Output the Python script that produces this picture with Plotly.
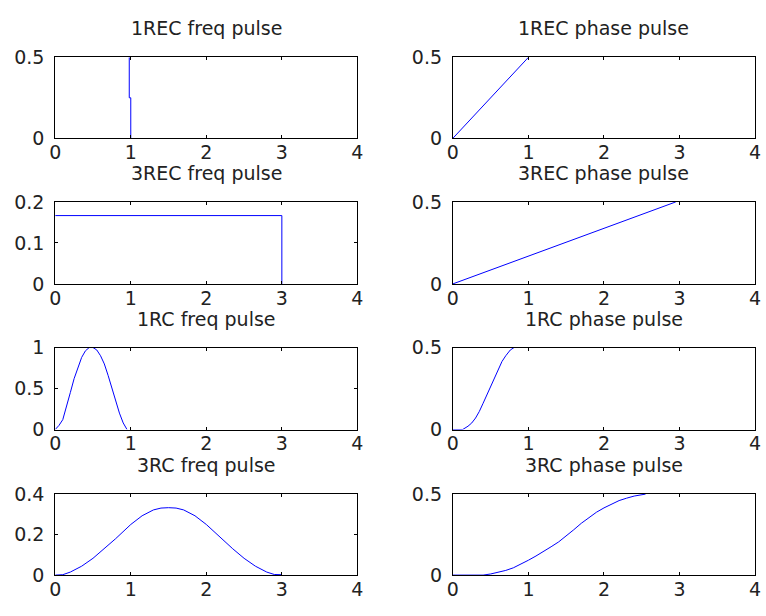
import plotly.graph_objects as go

# ---- data ----
titles = ["1REC freq pulse", "1REC phase pulse",
          "3REC freq pulse", "3REC phase pulse",
          "1RC freq pulse", "1RC phase pulse",
          "3RC freq pulse", "3RC phase pulse"]

rec1_freq_t = [0.98, 0.98, 1.0, 1.0]
rec1_freq_v = [0.5, 0.25, 0.25, 0]

rec1_phase_t = [0, 1.0]
rec1_phase_v = [0, 0.5]

rec3_freq_t = [0, 3.0, 3.0]
rec3_freq_v = [0.1667, 0.1667, 0]

rec3_phase_t = [0, 2.95]
rec3_phase_v = [0, 0.5]

rc1_freq_t = [0, 0.05, 0.1, 0.15, 0.2, 0.25, 0.3, 0.35, 0.4, 0.45, 0.5, 0.55,
              0.6, 0.65, 0.7, 0.75, 0.8, 0.85, 0.9, 0.95]
rc1_freq_v = [0, 0.05, 0.12, 0.27, 0.45, 0.62, 0.76, 0.88, 0.96, 1.0, 1.0, 0.97,
              0.9, 0.8, 0.66, 0.5, 0.35, 0.2, 0.08, 0]

rc1_phase_t = [0, 0.13, 0.2, 0.25, 0.3, 0.35, 0.4, 0.45, 0.5, 0.55, 0.6, 0.65, 0.7, 0.76, 0.81]
rc1_phase_v = [0, 0, 0.02, 0.04, 0.07, 0.11, 0.16, 0.21, 0.27, 0.32, 0.37, 0.415, 0.45, 0.485, 0.5]

rc3_freq_t = [0, 0.1, 0.2, 0.35, 0.5, 0.65, 0.8, 1.0, 1.15, 1.3, 1.4, 1.5, 1.6, 1.7,
              1.85, 2.0, 2.2, 2.35, 2.5, 2.65, 2.8, 2.9, 3.0]
rc3_freq_v = [0, 0.002, 0.015, 0.044, 0.083, 0.13, 0.18, 0.25, 0.293, 0.322, 0.331, 0.333,
              0.331, 0.322, 0.293, 0.25, 0.18, 0.13, 0.083, 0.044, 0.015, 0.003, 0.002]

rc3_phase_t = [0, 0.4, 0.5, 0.6, 0.7, 0.8, 0.9, 1.0, 1.1, 1.2, 1.3, 1.4, 1.5, 1.6, 1.7,
               1.8, 1.9, 2.0, 2.1, 2.2, 2.3, 2.4, 2.55]
rc3_phase_v = [0, 0, 0.007, 0.016, 0.029, 0.045, 0.066, 0.092, 0.118, 0.145, 0.175, 0.205,
               0.24, 0.28, 0.32, 0.355, 0.388, 0.415, 0.44, 0.46, 0.475, 0.488, 0.5]

series = [(rec1_freq_t, rec1_freq_v), (rec1_phase_t, rec1_phase_v),
          (rec3_freq_t, rec3_freq_v), (rec3_phase_t, rec3_phase_v),
          (rc1_freq_t, rc1_freq_v), (rc1_phase_t, rc1_phase_v),
          (rc3_freq_t, rc3_freq_v), (rc3_phase_t, rc3_phase_v)]

y_ranges = [[0, 0.5], [0, 0.5], [0, 0.2], [0, 0.5], [0, 1], [0, 0.5], [0, 0.4], [0, 0.5]]
y_ticks = [[0, 0.5], [0, 0.5], [0, 0.1, 0.2], [0, 0.5], [0, 0.5, 1], [0, 0.5], [0, 0.2, 0.4], [0, 0.5]]
y_ticktext = [["0", "0.5"], ["0", "0.5"], ["0", "0.1", "0.2"], ["0", "0.5"],
              ["0", "0.5", "1"], ["0", "0.5"], ["0", "0.2", "0.4"], ["0", "0.5"]]
x_ticks = [0, 1, 2, 3, 4]

# ---- layout geometry ----
W, H = 766, 616
col_px = [(50, 357), (454, 761)]
row_px = [(48, 132), (198, 283), (349, 434), (501, 585)]

FONT = "DejaVu Sans, sans-serif"
FS = 19
TXT = "#222222"

fig = go.Figure()
layout = dict(width=W, height=H, margin=dict(l=0, r=0, t=0, b=0),
              paper_bgcolor="white", plot_bgcolor="white", showlegend=False,
              font=dict(family=FONT, size=FS, color=TXT))
annotations = []

for i, (t, v) in enumerate(series):
    r, c = divmod(i, 2)
    n = i + 1
    xa = "x" if n == 1 else f"x{n}"
    ya = "y" if n == 1 else f"y{n}"
    fig.add_trace(go.Scatter(x=t, y=v, mode="lines", xaxis=xa, yaxis=ya,
                             line=dict(color="#0000ff", width=1),
                             hoverinfo="skip"))
    x0, x1 = col_px[c]
    y0, y1 = row_px[r]
    xdom = [x0 / W, x1 / W]
    ydom = [1 - y1 / H, 1 - y0 / H]
    common = dict(showline=True, linecolor="black", linewidth=1, mirror="ticks",
                  ticks="inside", ticklen=3, tickcolor="black", showgrid=False,
                  zeroline=False, layer="above traces", fixedrange=True,
                  tickfont=dict(family=FONT, size=FS, color=TXT))
    layout[f"xaxis{n}"] = dict(domain=xdom, range=[0, 4], tickvals=x_ticks,
                               ticktext=[str(k) for k in x_ticks],
                               ticklabelstandoff=-3,
                               anchor=ya, **common)
    layout[f"yaxis{n}"] = dict(domain=ydom, range=y_ranges[i], tickvals=y_ticks[i],
                               ticktext=y_ticktext[i], ticklabelstandoff=6,
                               anchor=xa, **common)
    annotations.append(dict(text=titles[i], xref="paper", yref="paper",
                            x=(xdom[0] + xdom[1]) / 2, y=ydom[1], yshift=29,
                            xanchor="center", yanchor="middle", showarrow=False,
                            font=dict(family=FONT, size=FS, color=TXT)))

layout["annotations"] = annotations
fig.update_layout(**layout)
fig.write_html("out.html")
